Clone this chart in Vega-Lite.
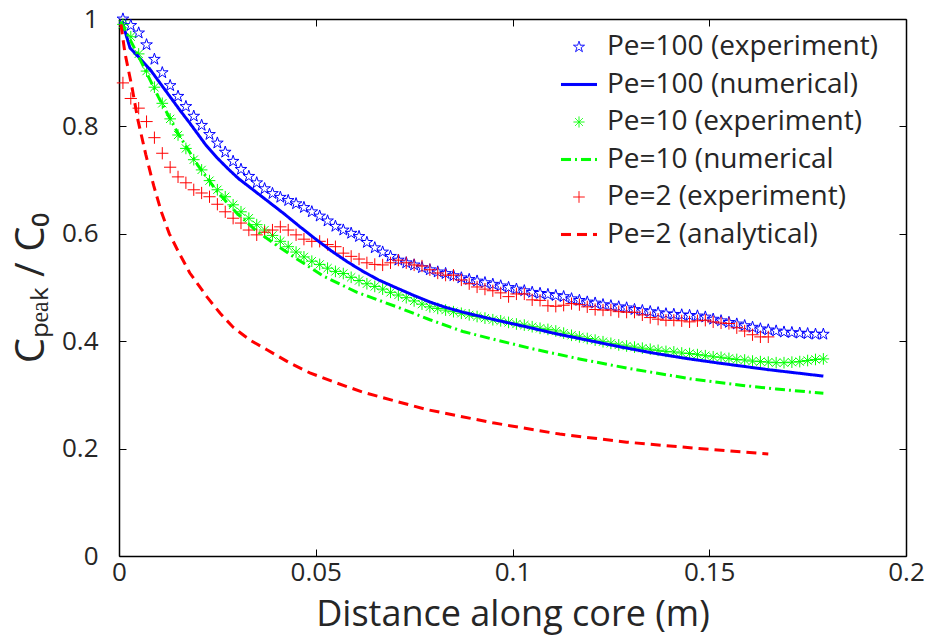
{
  "$schema": "https://vega.github.io/schema/vega-lite/v6.json",
  "width": 787,
  "height": 537,
  "autosize": {"type": "none"},
  "padding": {"left": 119, "top": 19, "right": 24, "bottom": 81},
  "background": "white",
  "datasets": {
    "experiment": [
      {"series": "Pe=100 (experiment)", "x": 0.001, "y": 1.000},
      {"series": "Pe=100 (experiment)", "x": 0.003, "y": 0.988},
      {"series": "Pe=100 (experiment)", "x": 0.005, "y": 0.974},
      {"series": "Pe=100 (experiment)", "x": 0.007, "y": 0.952},
      {"series": "Pe=100 (experiment)", "x": 0.009, "y": 0.925},
      {"series": "Pe=100 (experiment)", "x": 0.011, "y": 0.900},
      {"series": "Pe=100 (experiment)", "x": 0.013, "y": 0.876},
      {"series": "Pe=100 (experiment)", "x": 0.015, "y": 0.856},
      {"series": "Pe=100 (experiment)", "x": 0.017, "y": 0.837},
      {"series": "Pe=100 (experiment)", "x": 0.019, "y": 0.819},
      {"series": "Pe=100 (experiment)", "x": 0.021, "y": 0.802},
      {"series": "Pe=100 (experiment)", "x": 0.023, "y": 0.785},
      {"series": "Pe=100 (experiment)", "x": 0.025, "y": 0.769},
      {"series": "Pe=100 (experiment)", "x": 0.027, "y": 0.752},
      {"series": "Pe=100 (experiment)", "x": 0.029, "y": 0.735},
      {"series": "Pe=100 (experiment)", "x": 0.031, "y": 0.720},
      {"series": "Pe=100 (experiment)", "x": 0.033, "y": 0.707},
      {"series": "Pe=100 (experiment)", "x": 0.035, "y": 0.695},
      {"series": "Pe=100 (experiment)", "x": 0.037, "y": 0.684},
      {"series": "Pe=100 (experiment)", "x": 0.039, "y": 0.675},
      {"series": "Pe=100 (experiment)", "x": 0.041, "y": 0.668},
      {"series": "Pe=100 (experiment)", "x": 0.043, "y": 0.662},
      {"series": "Pe=100 (experiment)", "x": 0.045, "y": 0.656},
      {"series": "Pe=100 (experiment)", "x": 0.047, "y": 0.649},
      {"series": "Pe=100 (experiment)", "x": 0.049, "y": 0.641},
      {"series": "Pe=100 (experiment)", "x": 0.051, "y": 0.633},
      {"series": "Pe=100 (experiment)", "x": 0.053, "y": 0.624},
      {"series": "Pe=100 (experiment)", "x": 0.055, "y": 0.614},
      {"series": "Pe=100 (experiment)", "x": 0.057, "y": 0.607},
      {"series": "Pe=100 (experiment)", "x": 0.059, "y": 0.601},
      {"series": "Pe=100 (experiment)", "x": 0.061, "y": 0.595},
      {"series": "Pe=100 (experiment)", "x": 0.063, "y": 0.584},
      {"series": "Pe=100 (experiment)", "x": 0.065, "y": 0.574},
      {"series": "Pe=100 (experiment)", "x": 0.067, "y": 0.566},
      {"series": "Pe=100 (experiment)", "x": 0.069, "y": 0.558},
      {"series": "Pe=100 (experiment)", "x": 0.071, "y": 0.551},
      {"series": "Pe=100 (experiment)", "x": 0.073, "y": 0.546},
      {"series": "Pe=100 (experiment)", "x": 0.075, "y": 0.542},
      {"series": "Pe=100 (experiment)", "x": 0.077, "y": 0.537},
      {"series": "Pe=100 (experiment)", "x": 0.079, "y": 0.533},
      {"series": "Pe=100 (experiment)", "x": 0.081, "y": 0.529},
      {"series": "Pe=100 (experiment)", "x": 0.083, "y": 0.526},
      {"series": "Pe=100 (experiment)", "x": 0.085, "y": 0.522},
      {"series": "Pe=100 (experiment)", "x": 0.087, "y": 0.518},
      {"series": "Pe=100 (experiment)", "x": 0.089, "y": 0.515},
      {"series": "Pe=100 (experiment)", "x": 0.091, "y": 0.512},
      {"series": "Pe=100 (experiment)", "x": 0.093, "y": 0.509},
      {"series": "Pe=100 (experiment)", "x": 0.095, "y": 0.506},
      {"series": "Pe=100 (experiment)", "x": 0.097, "y": 0.503},
      {"series": "Pe=100 (experiment)", "x": 0.099, "y": 0.500},
      {"series": "Pe=100 (experiment)", "x": 0.101, "y": 0.497},
      {"series": "Pe=100 (experiment)", "x": 0.103, "y": 0.494},
      {"series": "Pe=100 (experiment)", "x": 0.105, "y": 0.491},
      {"series": "Pe=100 (experiment)", "x": 0.107, "y": 0.489},
      {"series": "Pe=100 (experiment)", "x": 0.109, "y": 0.487},
      {"series": "Pe=100 (experiment)", "x": 0.111, "y": 0.485},
      {"series": "Pe=100 (experiment)", "x": 0.113, "y": 0.483},
      {"series": "Pe=100 (experiment)", "x": 0.115, "y": 0.479},
      {"series": "Pe=100 (experiment)", "x": 0.117, "y": 0.476},
      {"series": "Pe=100 (experiment)", "x": 0.119, "y": 0.473},
      {"series": "Pe=100 (experiment)", "x": 0.121, "y": 0.471},
      {"series": "Pe=100 (experiment)", "x": 0.123, "y": 0.468},
      {"series": "Pe=100 (experiment)", "x": 0.125, "y": 0.466},
      {"series": "Pe=100 (experiment)", "x": 0.127, "y": 0.464},
      {"series": "Pe=100 (experiment)", "x": 0.129, "y": 0.462},
      {"series": "Pe=100 (experiment)", "x": 0.131, "y": 0.459},
      {"series": "Pe=100 (experiment)", "x": 0.133, "y": 0.457},
      {"series": "Pe=100 (experiment)", "x": 0.135, "y": 0.455},
      {"series": "Pe=100 (experiment)", "x": 0.137, "y": 0.453},
      {"series": "Pe=100 (experiment)", "x": 0.139, "y": 0.451},
      {"series": "Pe=100 (experiment)", "x": 0.141, "y": 0.450},
      {"series": "Pe=100 (experiment)", "x": 0.143, "y": 0.449},
      {"series": "Pe=100 (experiment)", "x": 0.145, "y": 0.448},
      {"series": "Pe=100 (experiment)", "x": 0.147, "y": 0.447},
      {"series": "Pe=100 (experiment)", "x": 0.149, "y": 0.445},
      {"series": "Pe=100 (experiment)", "x": 0.151, "y": 0.441},
      {"series": "Pe=100 (experiment)", "x": 0.153, "y": 0.438},
      {"series": "Pe=100 (experiment)", "x": 0.155, "y": 0.435},
      {"series": "Pe=100 (experiment)", "x": 0.157, "y": 0.432},
      {"series": "Pe=100 (experiment)", "x": 0.159, "y": 0.429},
      {"series": "Pe=100 (experiment)", "x": 0.161, "y": 0.426},
      {"series": "Pe=100 (experiment)", "x": 0.163, "y": 0.423},
      {"series": "Pe=100 (experiment)", "x": 0.165, "y": 0.421},
      {"series": "Pe=100 (experiment)", "x": 0.167, "y": 0.419},
      {"series": "Pe=100 (experiment)", "x": 0.169, "y": 0.417},
      {"series": "Pe=100 (experiment)", "x": 0.171, "y": 0.416},
      {"series": "Pe=100 (experiment)", "x": 0.173, "y": 0.415},
      {"series": "Pe=100 (experiment)", "x": 0.175, "y": 0.414},
      {"series": "Pe=100 (experiment)", "x": 0.177, "y": 0.413},
      {"series": "Pe=100 (experiment)", "x": 0.179, "y": 0.413},
      {"series": "Pe=10 (experiment)", "x": 0.001, "y": 0.990},
      {"series": "Pe=10 (experiment)", "x": 0.003, "y": 0.967},
      {"series": "Pe=10 (experiment)", "x": 0.005, "y": 0.935},
      {"series": "Pe=10 (experiment)", "x": 0.007, "y": 0.903},
      {"series": "Pe=10 (experiment)", "x": 0.009, "y": 0.873},
      {"series": "Pe=10 (experiment)", "x": 0.011, "y": 0.843},
      {"series": "Pe=10 (experiment)", "x": 0.013, "y": 0.814},
      {"series": "Pe=10 (experiment)", "x": 0.015, "y": 0.784},
      {"series": "Pe=10 (experiment)", "x": 0.017, "y": 0.759},
      {"series": "Pe=10 (experiment)", "x": 0.019, "y": 0.738},
      {"series": "Pe=10 (experiment)", "x": 0.021, "y": 0.719},
      {"series": "Pe=10 (experiment)", "x": 0.023, "y": 0.699},
      {"series": "Pe=10 (experiment)", "x": 0.025, "y": 0.682},
      {"series": "Pe=10 (experiment)", "x": 0.027, "y": 0.669},
      {"series": "Pe=10 (experiment)", "x": 0.029, "y": 0.654},
      {"series": "Pe=10 (experiment)", "x": 0.031, "y": 0.641},
      {"series": "Pe=10 (experiment)", "x": 0.033, "y": 0.629},
      {"series": "Pe=10 (experiment)", "x": 0.035, "y": 0.617},
      {"series": "Pe=10 (experiment)", "x": 0.037, "y": 0.607},
      {"series": "Pe=10 (experiment)", "x": 0.039, "y": 0.597},
      {"series": "Pe=10 (experiment)", "x": 0.041, "y": 0.586},
      {"series": "Pe=10 (experiment)", "x": 0.043, "y": 0.576},
      {"series": "Pe=10 (experiment)", "x": 0.045, "y": 0.566},
      {"series": "Pe=10 (experiment)", "x": 0.047, "y": 0.557},
      {"series": "Pe=10 (experiment)", "x": 0.049, "y": 0.549},
      {"series": "Pe=10 (experiment)", "x": 0.051, "y": 0.543},
      {"series": "Pe=10 (experiment)", "x": 0.053, "y": 0.536},
      {"series": "Pe=10 (experiment)", "x": 0.055, "y": 0.530},
      {"series": "Pe=10 (experiment)", "x": 0.057, "y": 0.526},
      {"series": "Pe=10 (experiment)", "x": 0.059, "y": 0.519},
      {"series": "Pe=10 (experiment)", "x": 0.061, "y": 0.513},
      {"series": "Pe=10 (experiment)", "x": 0.063, "y": 0.507},
      {"series": "Pe=10 (experiment)", "x": 0.065, "y": 0.502},
      {"series": "Pe=10 (experiment)", "x": 0.067, "y": 0.497},
      {"series": "Pe=10 (experiment)", "x": 0.069, "y": 0.491},
      {"series": "Pe=10 (experiment)", "x": 0.071, "y": 0.486},
      {"series": "Pe=10 (experiment)", "x": 0.073, "y": 0.481},
      {"series": "Pe=10 (experiment)", "x": 0.075, "y": 0.475},
      {"series": "Pe=10 (experiment)", "x": 0.077, "y": 0.469},
      {"series": "Pe=10 (experiment)", "x": 0.079, "y": 0.464},
      {"series": "Pe=10 (experiment)", "x": 0.081, "y": 0.461},
      {"series": "Pe=10 (experiment)", "x": 0.083, "y": 0.458},
      {"series": "Pe=10 (experiment)", "x": 0.085, "y": 0.455},
      {"series": "Pe=10 (experiment)", "x": 0.087, "y": 0.452},
      {"series": "Pe=10 (experiment)", "x": 0.089, "y": 0.449},
      {"series": "Pe=10 (experiment)", "x": 0.091, "y": 0.446},
      {"series": "Pe=10 (experiment)", "x": 0.093, "y": 0.443},
      {"series": "Pe=10 (experiment)", "x": 0.095, "y": 0.440},
      {"series": "Pe=10 (experiment)", "x": 0.097, "y": 0.438},
      {"series": "Pe=10 (experiment)", "x": 0.099, "y": 0.435},
      {"series": "Pe=10 (experiment)", "x": 0.101, "y": 0.432},
      {"series": "Pe=10 (experiment)", "x": 0.103, "y": 0.430},
      {"series": "Pe=10 (experiment)", "x": 0.105, "y": 0.427},
      {"series": "Pe=10 (experiment)", "x": 0.107, "y": 0.424},
      {"series": "Pe=10 (experiment)", "x": 0.109, "y": 0.422},
      {"series": "Pe=10 (experiment)", "x": 0.111, "y": 0.419},
      {"series": "Pe=10 (experiment)", "x": 0.113, "y": 0.415},
      {"series": "Pe=10 (experiment)", "x": 0.115, "y": 0.411},
      {"series": "Pe=10 (experiment)", "x": 0.117, "y": 0.408},
      {"series": "Pe=10 (experiment)", "x": 0.119, "y": 0.405},
      {"series": "Pe=10 (experiment)", "x": 0.121, "y": 0.402},
      {"series": "Pe=10 (experiment)", "x": 0.123, "y": 0.399},
      {"series": "Pe=10 (experiment)", "x": 0.125, "y": 0.396},
      {"series": "Pe=10 (experiment)", "x": 0.127, "y": 0.393},
      {"series": "Pe=10 (experiment)", "x": 0.129, "y": 0.391},
      {"series": "Pe=10 (experiment)", "x": 0.131, "y": 0.389},
      {"series": "Pe=10 (experiment)", "x": 0.133, "y": 0.387},
      {"series": "Pe=10 (experiment)", "x": 0.135, "y": 0.385},
      {"series": "Pe=10 (experiment)", "x": 0.137, "y": 0.383},
      {"series": "Pe=10 (experiment)", "x": 0.139, "y": 0.381},
      {"series": "Pe=10 (experiment)", "x": 0.141, "y": 0.380},
      {"series": "Pe=10 (experiment)", "x": 0.143, "y": 0.378},
      {"series": "Pe=10 (experiment)", "x": 0.145, "y": 0.377},
      {"series": "Pe=10 (experiment)", "x": 0.147, "y": 0.375},
      {"series": "Pe=10 (experiment)", "x": 0.149, "y": 0.373},
      {"series": "Pe=10 (experiment)", "x": 0.151, "y": 0.371},
      {"series": "Pe=10 (experiment)", "x": 0.153, "y": 0.370},
      {"series": "Pe=10 (experiment)", "x": 0.155, "y": 0.368},
      {"series": "Pe=10 (experiment)", "x": 0.157, "y": 0.366},
      {"series": "Pe=10 (experiment)", "x": 0.159, "y": 0.365},
      {"series": "Pe=10 (experiment)", "x": 0.161, "y": 0.363},
      {"series": "Pe=10 (experiment)", "x": 0.163, "y": 0.362},
      {"series": "Pe=10 (experiment)", "x": 0.165, "y": 0.361},
      {"series": "Pe=10 (experiment)", "x": 0.167, "y": 0.360},
      {"series": "Pe=10 (experiment)", "x": 0.169, "y": 0.360},
      {"series": "Pe=10 (experiment)", "x": 0.171, "y": 0.361},
      {"series": "Pe=10 (experiment)", "x": 0.173, "y": 0.362},
      {"series": "Pe=10 (experiment)", "x": 0.175, "y": 0.364},
      {"series": "Pe=10 (experiment)", "x": 0.177, "y": 0.366},
      {"series": "Pe=10 (experiment)", "x": 0.179, "y": 0.367},
      {"series": "Pe=2 (experiment)", "x": 0.001, "y": 0.881},
      {"series": "Pe=2 (experiment)", "x": 0.003, "y": 0.852},
      {"series": "Pe=2 (experiment)", "x": 0.005, "y": 0.834},
      {"series": "Pe=2 (experiment)", "x": 0.007, "y": 0.809},
      {"series": "Pe=2 (experiment)", "x": 0.009, "y": 0.779},
      {"series": "Pe=2 (experiment)", "x": 0.011, "y": 0.750},
      {"series": "Pe=2 (experiment)", "x": 0.013, "y": 0.724},
      {"series": "Pe=2 (experiment)", "x": 0.015, "y": 0.706},
      {"series": "Pe=2 (experiment)", "x": 0.017, "y": 0.695},
      {"series": "Pe=2 (experiment)", "x": 0.019, "y": 0.682},
      {"series": "Pe=2 (experiment)", "x": 0.021, "y": 0.676},
      {"series": "Pe=2 (experiment)", "x": 0.023, "y": 0.669},
      {"series": "Pe=2 (experiment)", "x": 0.025, "y": 0.655},
      {"series": "Pe=2 (experiment)", "x": 0.027, "y": 0.641},
      {"series": "Pe=2 (experiment)", "x": 0.029, "y": 0.629},
      {"series": "Pe=2 (experiment)", "x": 0.031, "y": 0.620},
      {"series": "Pe=2 (experiment)", "x": 0.033, "y": 0.607},
      {"series": "Pe=2 (experiment)", "x": 0.035, "y": 0.598},
      {"series": "Pe=2 (experiment)", "x": 0.037, "y": 0.603},
      {"series": "Pe=2 (experiment)", "x": 0.039, "y": 0.607},
      {"series": "Pe=2 (experiment)", "x": 0.041, "y": 0.613},
      {"series": "Pe=2 (experiment)", "x": 0.043, "y": 0.607},
      {"series": "Pe=2 (experiment)", "x": 0.045, "y": 0.598},
      {"series": "Pe=2 (experiment)", "x": 0.047, "y": 0.590},
      {"series": "Pe=2 (experiment)", "x": 0.049, "y": 0.586},
      {"series": "Pe=2 (experiment)", "x": 0.051, "y": 0.586},
      {"series": "Pe=2 (experiment)", "x": 0.053, "y": 0.580},
      {"series": "Pe=2 (experiment)", "x": 0.055, "y": 0.576},
      {"series": "Pe=2 (experiment)", "x": 0.057, "y": 0.564},
      {"series": "Pe=2 (experiment)", "x": 0.059, "y": 0.558},
      {"series": "Pe=2 (experiment)", "x": 0.061, "y": 0.553},
      {"series": "Pe=2 (experiment)", "x": 0.063, "y": 0.546},
      {"series": "Pe=2 (experiment)", "x": 0.065, "y": 0.543},
      {"series": "Pe=2 (experiment)", "x": 0.067, "y": 0.542},
      {"series": "Pe=2 (experiment)", "x": 0.069, "y": 0.546},
      {"series": "Pe=2 (experiment)", "x": 0.071, "y": 0.551},
      {"series": "Pe=2 (experiment)", "x": 0.073, "y": 0.546},
      {"series": "Pe=2 (experiment)", "x": 0.075, "y": 0.542},
      {"series": "Pe=2 (experiment)", "x": 0.077, "y": 0.540},
      {"series": "Pe=2 (experiment)", "x": 0.079, "y": 0.533},
      {"series": "Pe=2 (experiment)", "x": 0.081, "y": 0.527},
      {"series": "Pe=2 (experiment)", "x": 0.083, "y": 0.523},
      {"series": "Pe=2 (experiment)", "x": 0.085, "y": 0.523},
      {"series": "Pe=2 (experiment)", "x": 0.087, "y": 0.514},
      {"series": "Pe=2 (experiment)", "x": 0.089, "y": 0.507},
      {"series": "Pe=2 (experiment)", "x": 0.091, "y": 0.501},
      {"series": "Pe=2 (experiment)", "x": 0.093, "y": 0.497},
      {"series": "Pe=2 (experiment)", "x": 0.095, "y": 0.494},
      {"series": "Pe=2 (experiment)", "x": 0.097, "y": 0.490},
      {"series": "Pe=2 (experiment)", "x": 0.099, "y": 0.483},
      {"series": "Pe=2 (experiment)", "x": 0.101, "y": 0.488},
      {"series": "Pe=2 (experiment)", "x": 0.103, "y": 0.488},
      {"series": "Pe=2 (experiment)", "x": 0.105, "y": 0.477},
      {"series": "Pe=2 (experiment)", "x": 0.107, "y": 0.476},
      {"series": "Pe=2 (experiment)", "x": 0.109, "y": 0.466},
      {"series": "Pe=2 (experiment)", "x": 0.111, "y": 0.465},
      {"series": "Pe=2 (experiment)", "x": 0.113, "y": 0.467},
      {"series": "Pe=2 (experiment)", "x": 0.115, "y": 0.470},
      {"series": "Pe=2 (experiment)", "x": 0.117, "y": 0.468},
      {"series": "Pe=2 (experiment)", "x": 0.119, "y": 0.464},
      {"series": "Pe=2 (experiment)", "x": 0.121, "y": 0.459},
      {"series": "Pe=2 (experiment)", "x": 0.123, "y": 0.458},
      {"series": "Pe=2 (experiment)", "x": 0.125, "y": 0.458},
      {"series": "Pe=2 (experiment)", "x": 0.127, "y": 0.455},
      {"series": "Pe=2 (experiment)", "x": 0.129, "y": 0.454},
      {"series": "Pe=2 (experiment)", "x": 0.131, "y": 0.454},
      {"series": "Pe=2 (experiment)", "x": 0.133, "y": 0.449},
      {"series": "Pe=2 (experiment)", "x": 0.135, "y": 0.444},
      {"series": "Pe=2 (experiment)", "x": 0.137, "y": 0.441},
      {"series": "Pe=2 (experiment)", "x": 0.139, "y": 0.439},
      {"series": "Pe=2 (experiment)", "x": 0.141, "y": 0.439},
      {"series": "Pe=2 (experiment)", "x": 0.143, "y": 0.438},
      {"series": "Pe=2 (experiment)", "x": 0.145, "y": 0.436},
      {"series": "Pe=2 (experiment)", "x": 0.147, "y": 0.438},
      {"series": "Pe=2 (experiment)", "x": 0.149, "y": 0.439},
      {"series": "Pe=2 (experiment)", "x": 0.151, "y": 0.436},
      {"series": "Pe=2 (experiment)", "x": 0.153, "y": 0.434},
      {"series": "Pe=2 (experiment)", "x": 0.155, "y": 0.433},
      {"series": "Pe=2 (experiment)", "x": 0.157, "y": 0.425},
      {"series": "Pe=2 (experiment)", "x": 0.159, "y": 0.419},
      {"series": "Pe=2 (experiment)", "x": 0.161, "y": 0.412},
      {"series": "Pe=2 (experiment)", "x": 0.163, "y": 0.408},
      {"series": "Pe=2 (experiment)", "x": 0.165, "y": 0.408}
    ],
    "model": [
      {"series": "Pe=100 (numerical)", "x": 0.0008, "y": 0.995},
      {"series": "Pe=100 (numerical)", "x": 0.0028, "y": 0.946},
      {"series": "Pe=100 (numerical)", "x": 0.004, "y": 0.937},
      {"series": "Pe=100 (numerical)", "x": 0.008, "y": 0.905},
      {"series": "Pe=100 (numerical)", "x": 0.010, "y": 0.885},
      {"series": "Pe=100 (numerical)", "x": 0.013, "y": 0.855},
      {"series": "Pe=100 (numerical)", "x": 0.0155, "y": 0.830},
      {"series": "Pe=100 (numerical)", "x": 0.018, "y": 0.806},
      {"series": "Pe=100 (numerical)", "x": 0.020, "y": 0.786},
      {"series": "Pe=100 (numerical)", "x": 0.022, "y": 0.766},
      {"series": "Pe=100 (numerical)", "x": 0.025, "y": 0.741},
      {"series": "Pe=100 (numerical)", "x": 0.028, "y": 0.719},
      {"series": "Pe=100 (numerical)", "x": 0.0305, "y": 0.702},
      {"series": "Pe=100 (numerical)", "x": 0.033, "y": 0.688},
      {"series": "Pe=100 (numerical)", "x": 0.0376, "y": 0.662},
      {"series": "Pe=100 (numerical)", "x": 0.042, "y": 0.637},
      {"series": "Pe=100 (numerical)", "x": 0.046, "y": 0.613},
      {"series": "Pe=100 (numerical)", "x": 0.050, "y": 0.590},
      {"series": "Pe=100 (numerical)", "x": 0.054, "y": 0.568},
      {"series": "Pe=100 (numerical)", "x": 0.058, "y": 0.548},
      {"series": "Pe=100 (numerical)", "x": 0.062, "y": 0.530},
      {"series": "Pe=100 (numerical)", "x": 0.066, "y": 0.514},
      {"series": "Pe=100 (numerical)", "x": 0.0706, "y": 0.499},
      {"series": "Pe=100 (numerical)", "x": 0.075, "y": 0.485},
      {"series": "Pe=100 (numerical)", "x": 0.079, "y": 0.473},
      {"series": "Pe=100 (numerical)", "x": 0.083, "y": 0.463},
      {"series": "Pe=100 (numerical)", "x": 0.0874, "y": 0.454},
      {"series": "Pe=100 (numerical)", "x": 0.092, "y": 0.446},
      {"series": "Pe=100 (numerical)", "x": 0.096, "y": 0.439},
      {"series": "Pe=100 (numerical)", "x": 0.104, "y": 0.426},
      {"series": "Pe=100 (numerical)", "x": 0.111, "y": 0.414},
      {"series": "Pe=100 (numerical)", "x": 0.119, "y": 0.402},
      {"series": "Pe=100 (numerical)", "x": 0.127, "y": 0.390},
      {"series": "Pe=100 (numerical)", "x": 0.1357, "y": 0.378},
      {"series": "Pe=100 (numerical)", "x": 0.144, "y": 0.368},
      {"series": "Pe=100 (numerical)", "x": 0.1527, "y": 0.359},
      {"series": "Pe=100 (numerical)", "x": 0.165, "y": 0.347},
      {"series": "Pe=100 (numerical)", "x": 0.172, "y": 0.341},
      {"series": "Pe=100 (numerical)", "x": 0.179, "y": 0.335},
      {"series": "Pe=10 (numerical", "x": 0.0005, "y": 0.995},
      {"series": "Pe=10 (numerical", "x": 0.005, "y": 0.930},
      {"series": "Pe=10 (numerical", "x": 0.010, "y": 0.855},
      {"series": "Pe=10 (numerical", "x": 0.015, "y": 0.787},
      {"series": "Pe=10 (numerical", "x": 0.020, "y": 0.728},
      {"series": "Pe=10 (numerical", "x": 0.025, "y": 0.678},
      {"series": "Pe=10 (numerical", "x": 0.030, "y": 0.638},
      {"series": "Pe=10 (numerical", "x": 0.035, "y": 0.605},
      {"series": "Pe=10 (numerical", "x": 0.040, "y": 0.579},
      {"series": "Pe=10 (numerical", "x": 0.044, "y": 0.559},
      {"series": "Pe=10 (numerical", "x": 0.052, "y": 0.521},
      {"series": "Pe=10 (numerical", "x": 0.0605, "y": 0.491},
      {"series": "Pe=10 (numerical", "x": 0.0706, "y": 0.464},
      {"series": "Pe=10 (numerical", "x": 0.079, "y": 0.440},
      {"series": "Pe=10 (numerical", "x": 0.0874, "y": 0.418},
      {"series": "Pe=10 (numerical", "x": 0.096, "y": 0.402},
      {"series": "Pe=10 (numerical", "x": 0.105, "y": 0.386},
      {"series": "Pe=10 (numerical", "x": 0.117, "y": 0.367},
      {"series": "Pe=10 (numerical", "x": 0.129, "y": 0.350},
      {"series": "Pe=10 (numerical", "x": 0.146, "y": 0.329},
      {"series": "Pe=10 (numerical", "x": 0.158, "y": 0.318},
      {"series": "Pe=10 (numerical", "x": 0.167, "y": 0.311},
      {"series": "Pe=10 (numerical", "x": 0.179, "y": 0.303},
      {"series": "Pe=2 (analytical)", "x": 0.0005, "y": 0.990},
      {"series": "Pe=2 (analytical)", "x": 0.0015, "y": 0.937},
      {"series": "Pe=2 (analytical)", "x": 0.0033, "y": 0.873},
      {"series": "Pe=2 (analytical)", "x": 0.0048, "y": 0.812},
      {"series": "Pe=2 (analytical)", "x": 0.0068, "y": 0.748},
      {"series": "Pe=2 (analytical)", "x": 0.0088, "y": 0.690},
      {"series": "Pe=2 (analytical)", "x": 0.0108, "y": 0.640},
      {"series": "Pe=2 (analytical)", "x": 0.0128, "y": 0.600},
      {"series": "Pe=2 (analytical)", "x": 0.015, "y": 0.568},
      {"series": "Pe=2 (analytical)", "x": 0.018, "y": 0.527},
      {"series": "Pe=2 (analytical)", "x": 0.0224, "y": 0.482},
      {"series": "Pe=2 (analytical)", "x": 0.0257, "y": 0.452},
      {"series": "Pe=2 (analytical)", "x": 0.029, "y": 0.426},
      {"series": "Pe=2 (analytical)", "x": 0.0333, "y": 0.402},
      {"series": "Pe=2 (analytical)", "x": 0.0376, "y": 0.384},
      {"series": "Pe=2 (analytical)", "x": 0.0435, "y": 0.359},
      {"series": "Pe=2 (analytical)", "x": 0.0485, "y": 0.341},
      {"series": "Pe=2 (analytical)", "x": 0.0554, "y": 0.322},
      {"series": "Pe=2 (analytical)", "x": 0.062, "y": 0.305},
      {"series": "Pe=2 (analytical)", "x": 0.078, "y": 0.273},
      {"series": "Pe=2 (analytical)", "x": 0.095, "y": 0.248},
      {"series": "Pe=2 (analytical)", "x": 0.112, "y": 0.227},
      {"series": "Pe=2 (analytical)", "x": 0.129, "y": 0.212},
      {"series": "Pe=2 (analytical)", "x": 0.146, "y": 0.201},
      {"series": "Pe=2 (analytical)", "x": 0.165, "y": 0.190}
    ]
  },
  "layer": [
    {
      "data": {"name": "experiment"},
      "mark": {"type": "point", "filled": false, "size": 150, "opacity": 1, "strokeWidth": 1},
      "encoding": {
        "x": {
          "field": "x", "type": "quantitative",
          "scale": {"domain": [0, 0.2], "nice": false},
          "axis": {"orient": "bottom", "values": [0, 0.05, 0.1, 0.15, 0.2], "format": "~g", "labelPadding": 10, "title": "Distance along core (m)", "titleFontSize": 36, "titlePadding": 12}
        },
        "y": {
          "field": "y", "type": "quantitative",
          "scale": {"domain": [0, 1], "nice": false},
          "axis": {"orient": "left", "values": [0, 0.2, 0.4, 0.6, 0.8, 1], "format": "~g", "labelPadding": 28, "title": "Cₚₑₐₖ / C₀", "titleFontSize": 40, "titlePadding": 10}
        },
        "color": {
          "field": "series", "type": "nominal",
          "scale": {
            "domain": ["Pe=100 (experiment)", "Pe=100 (numerical)", "Pe=10 (experiment)", "Pe=10 (numerical", "Pe=2 (experiment)", "Pe=2 (analytical)"],
            "range": ["#0000ff", "#0000ff", "#00ff00", "#00ff00", "#ff0000", "#ff0000"]
          },
          "legend": {
            "title": null,
            "encode": {
              "symbols": {
                "update": {
                  "shape": {"scale": "shape", "field": "value"},
                  "strokeDash": {"scale": "strokeDash", "field": "value"},
                  "stroke": {"scale": "color", "field": "value"},
                  "fill": {"value": "transparent"},
                  "opacity": {"value": 1}
                }
              }
            }
          }
        },
        "shape": {
          "field": "series", "type": "nominal",
          "scale": {
            "domain": ["Pe=100 (experiment)", "Pe=100 (numerical)", "Pe=10 (experiment)", "Pe=10 (numerical", "Pe=2 (experiment)", "Pe=2 (analytical)"],
            "range": [
              "M0,-1L0.2245,-0.309L0.951,-0.309L0.363,0.118L0.588,0.809L0,0.382L-0.588,0.809L-0.363,0.118L-0.951,-0.309L-0.2245,-0.309Z",
              "M-3.1,-0.18L3.1,-0.18M-3.1,-0.09L3.1,-0.09M-3.1,0L3.1,0M-3.1,0.09L3.1,0.09M-3.1,0.18L3.1,0.18",
              "M0,-0.95L0,0.95M-0.95,0L0.95,0M-0.67,-0.67L0.67,0.67M-0.67,0.67L0.67,-0.67",
              "M-3.1,-0.18L3.1,-0.18M-3.1,-0.09L3.1,-0.09M-3.1,0L3.1,0M-3.1,0.09L3.1,0.09M-3.1,0.18L3.1,0.18",
              "M0,-1L0,1M-1,0L1,0",
              "M-3.1,-0.18L3.1,-0.18M-3.1,-0.09L3.1,-0.09M-3.1,0L3.1,0M-3.1,0.09L3.1,0.09M-3.1,0.18L3.1,0.18"
            ]
          },
          "legend": null
        }
      }
    },
    {
      "data": {"name": "model"},
      "mark": {"type": "line", "strokeCap": "butt", "strokeWidth": 3},
      "encoding": {
        "x": {
          "field": "x", "type": "quantitative",
          "axis": {"orient": "top", "values": [0, 0.05, 0.1, 0.15, 0.2], "labels": false, "title": null}
        },
        "y": {
          "field": "y", "type": "quantitative",
          "axis": {"orient": "right", "values": [0, 0.2, 0.4, 0.6, 0.8, 1], "labels": false, "title": null}
        },
        "color": {"field": "series", "type": "nominal"},
        "strokeDash": {
          "field": "series", "type": "nominal",
          "scale": {
            "domain": ["Pe=100 (experiment)", "Pe=100 (numerical)", "Pe=10 (experiment)", "Pe=10 (numerical", "Pe=2 (experiment)", "Pe=2 (analytical)"],
            "range": [[1, 0], [1, 0], [1, 0], [10, 4, 2, 4], [1, 0], [10, 6]]
          },
          "legend": null
        },
        "order": {"field": "x", "type": "quantitative"}
      }
    }
  ],
  "resolve": {"axis": {"x": "independent", "y": "independent"}},
  "config": {
    "view": {"stroke": null},
    "axis": {
      "domainColor": "#000000", "domainWidth": 1.5,
      "tickColor": "#000000", "tickWidth": 1, "tickSize": -7,
      "grid": false, "labelFlush": false, "labelOverlap": false,
      "labelFont": "Open Sans", "labelFontSize": 26, "labelColor": "#262626",
      "titleFont": "Open Sans", "titleFontSize": 32, "titleFontWeight": "normal", "titleColor": "#262626"
    },
    "legend": {
      "orient": "none", "legendX": 446, "legendY": 14,
      "padding": 0, "labelFont": "Open Sans", "labelFontSize": 28, "labelColor": "#262626", "labelLimit": 0,
      "symbolSize": 135, "symbolStrokeWidth": 1, "labelOffset": 14, "rowPadding": 9.5
    }
  }
}
